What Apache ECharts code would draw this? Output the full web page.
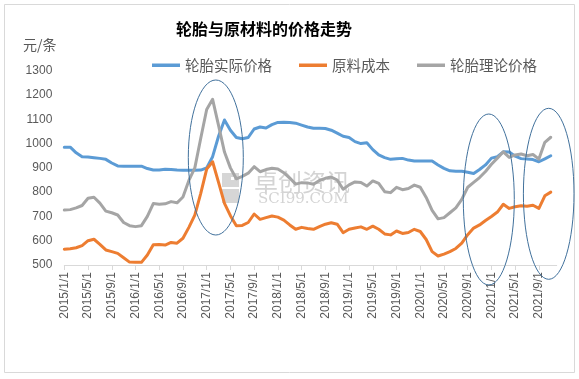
<!DOCTYPE html>
<html>
<head>
<meta charset="utf-8">
<script src="https://cdn.jsdelivr.net/npm/echarts@6/dist/echarts.min.js"></script>
<style>
html,body{margin:0;padding:0;background:#fff;}
#main{width:579px;height:379px;}
</style>
</head>
<body>
<div id="main"></div>
<script>
// ---- data (monthly, starting 2015/1) ----
const startYear = 2015;
const monthCount = 84; // 2015/1 .. 2021/12 (axis span)
const categories = [];
for (let i = 0; i < monthCount; i++) {
  const y = startYear + Math.floor(i / 12);
  const m = (i % 12) + 1;
  categories.push(y + '/' + m + '/1');
}
const seriesNames = ['轮胎实际价格', '原料成本', '轮胎理论价格'];
const actualPrice = [
  985, 985, 962, 946, 945, 942, 939, 935, 920, 908, 907, 907,
  907, 907, 897, 891, 891, 894, 893, 891, 890, 890, 890, 891,
  900, 946, 1030, 1097, 1055, 1025, 1020, 1025, 1060, 1068, 1064, 1078,
  1087, 1088, 1087, 1084, 1076, 1068, 1063, 1063, 1062, 1055, 1043, 1030,
  1025, 1008, 1000, 1003, 975, 953, 942, 935, 937, 939, 932, 928,
  928, 928, 928, 912, 898, 888, 886, 886, 882, 877, 893, 912,
  940, 946, 966, 965, 948, 938, 936, 934, 925, 937, 950
];
const materialCost = [
  565, 567, 571, 580, 600, 606, 585, 562, 555, 548, 530, 512,
  511, 511, 541, 583, 584, 582, 593, 590, 610, 655, 705, 795,
  895, 925, 840, 754, 703, 662, 663, 675, 710, 688, 695, 702,
  697, 685, 665, 647, 655, 650, 647, 658, 668, 674, 668, 633,
  647, 652, 657, 647, 660, 647, 628, 624, 640, 630, 634, 647,
  638, 605, 555, 537, 545, 555, 568, 590, 625, 652, 665, 683,
  700, 718, 750, 733, 740, 744, 742, 746, 733, 785, 800
];
const theoryPrice = [
  726, 728, 735, 745, 775, 779, 755, 722, 715, 706, 675, 662,
  658, 662, 700, 753, 750, 752, 761, 756, 780, 848, 900, 1022,
  1140, 1182, 1075, 965, 900, 855, 865, 878, 905, 884, 893, 898,
  895, 880, 858, 833, 839, 838, 832, 848, 857, 862, 850, 812,
  830, 842, 840, 825, 846, 836, 802, 798, 820, 810, 815, 829,
  820, 778, 725, 690, 695, 715, 735, 770, 820, 840, 860, 885,
  915, 940, 966, 943, 953, 957, 950, 955, 936, 1005, 1026
];
const yMin = 500, yMax = 1300, yStep = 100;
const colors = ['#5B9BD5', '#ED7D31', '#A5A5A5'];

const chart = echarts.init(document.getElementById('main'), null, {renderer: 'canvas'});
const cjk = '"Noto Sans CJK SC", "Noto Sans", sans-serif';
const num = '"Liberation Sans", Arial, sans-serif';

function mkSeries(name, data, color) {
  return {
    name: name, type: 'line', data: data, showSymbol: false, symbol: 'none',
    lineStyle: {width: 3, color: color, join: 'round', cap: 'round'},
    itemStyle: {color: color}, z: 3, animation: false
  };
}

chart.setOption({
  animation: false,
  backgroundColor: '#ffffff',
  color: colors,
  title: [
    {text: '轮胎与原材料的价格走势', left: 171, top: 16,
     textStyle: {fontFamily: cjk, fontSize: 16, fontWeight: 'bold', color: '#000'}},
    {text: '元/条', left: 18, top: 33,
     textStyle: {fontFamily: cjk, fontSize: 14, fontWeight: 'normal', color: '#595959'}}
  ],
  legend: {
    data: seriesNames, left: 152, top: 58, itemGap: 27, padding: 0,
    icon: 'rect', itemWidth: 28, itemHeight: 3.5,
    textStyle: {fontFamily: cjk, fontSize: 14.5, color: '#595959'}
  },
  grid: {left: 64.3, right: 22.3, top: 70.7, bottom: 114},
  xAxis: {
    type: 'category', data: categories, boundaryGap: false,
    axisLine: {show: true, lineStyle: {color: '#d9d9d9', width: 1}},
    axisTick: {show: true, interval: 3, length: 5, lineStyle: {color: '#d9d9d9'}},
    axisLabel: {interval: 3, rotate: 90, margin: 7, fontFamily: num, fontSize: 12, color: '#595959'},
    splitLine: {show: false}
  },
  yAxis: {
    type: 'value', min: yMin, max: yMax, interval: yStep,
    axisLine: {show: false}, axisTick: {show: false},
    axisLabel: {margin: 12, fontFamily: num, fontSize: 12, color: '#595959',
      formatter: function (v) { return String(v); }},
    splitLine: {show: false}
  },
  series: [
    mkSeries(seriesNames[0], actualPrice, colors[0]),
    mkSeries(seriesNames[1], materialCost, colors[1]),
    mkSeries(seriesNames[2], theoryPrice, colors[2])
  ],
  graphic: [
    {type: 'rect', shape: {x: 4.5, y: 4.5, width: 570, height: 368}, style: {fill: 'none', stroke: '#d9d9d9', lineWidth: 1}, z: 0, silent: true},
    // watermark
    {type: 'rect', shape: {x: 222, y: 173, width: 17, height: 14}, style: {fill: '#d6d6d6'}, z: 1, silent: true},
    {type: 'rect', shape: {x: 222, y: 189, width: 17, height: 14}, style: {fill: '#d6d6d6'}, z: 1, silent: true},
    {type: 'rect', shape: {x: 231, y: 177, width: 3, height: 3}, style: {fill: '#ffffff'}, z: 1, silent: true},
    {type: 'text', x: 254, y: 170, style: {text: '卓创资讯', fontFamily: cjk, fontSize: 24, fill: '#d4d4d4'}, z: 1, silent: true},
    {type: 'text', x: 258, y: 192, style: {text: 'SCI99.COM', fontFamily: '"DejaVu Serif", serif', fontSize: 15, fill: '#d4d4d4'}, z: 1, silent: true},
    // annotation ellipses
    {type: 'ellipse', shape: {cx: 215.8, cy: 157.5, rx: 27.5, ry: 77.5}, style: {fill: 'none', stroke: '#41719C', lineWidth: 1}, z: 10, silent: true},
    {type: 'ellipse', shape: {cx: 488.8, cy: 199.5, rx: 25.5, ry: 85.5}, style: {fill: 'none', stroke: '#41719C', lineWidth: 1}, z: 10, silent: true},
    {type: 'ellipse', shape: {cx: 548.7, cy: 193.8, rx: 25.3, ry: 85.5}, style: {fill: 'none', stroke: '#41719C', lineWidth: 1}, z: 10, silent: true}
  ]
});
</script>
</body>
</html>
